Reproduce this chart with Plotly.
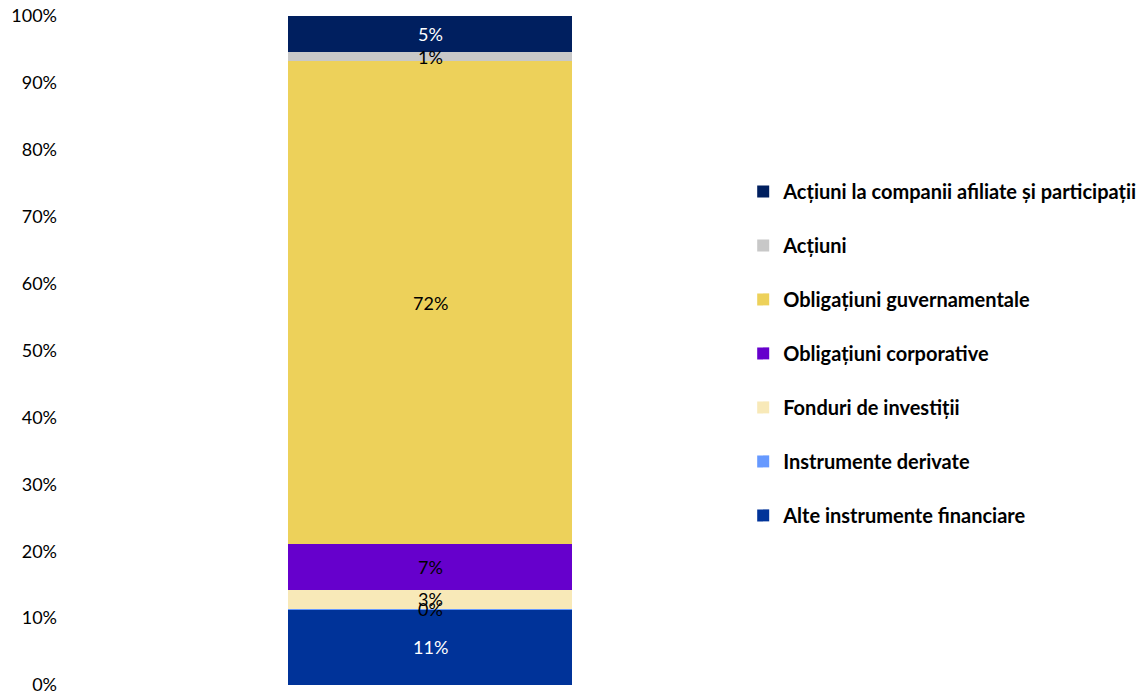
import plotly.graph_objects as go

# Portfolio structure (share of total, %), stacked bottom to top
categories = ["Total"]
series_names = [
    "Alte instrumente financiare",
    "Instrumente derivate",
    "Fonduri de investiții",
    "Obligațiuni corporative",
    "Obligațiuni guvernamentale",
    "Acțiuni",
    "Acțiuni la companii afiliate și participații",
]
series_values = [11.3, 0.1, 2.8, 6.9, 72.1, 1.4, 5.4]
series_colors = ["#003399", "#6699FF", "#F8E9B8", "#6600CC", "#EDD15A", "#C8C8C8", "#001F5F"]
label_colors = ["white", "black", "black", "black", "black", "black", "white"]
y_ticks = [0, 10, 20, 30, 40, 50, 60, 70, 80, 90, 100]
y_tick_labels = [f"{t}%" for t in y_ticks]

FONT = "Lato, 'Open Sans', sans-serif"

fig = go.Figure()
n = len(series_names)
base = 0.0
for i, (name, val, col, lcol) in enumerate(zip(series_names, series_values, series_colors, label_colors)):
    fig.add_trace(go.Bar(
        x=categories,
        y=[val],
        name=name,
        legendgroup=name,
        legendrank=100 + (n - i),
        marker=dict(color=col, line=dict(width=0)),
        width=0.394,
        hovertemplate="%{fullData.name}: %{y:.1f}%<extra></extra>",
    ))
    # value label centred in its segment, kept above every bar
    fig.add_annotation(
        x=categories[0], y=base + val / 2, text=f"{val:.0f}%",
        showarrow=False, font=dict(color=lcol, size=18, family=FONT),
        xanchor="center", yanchor="middle",
    )
    base += val

fig.update_layout(
    barmode="stack",
    width=1146,
    height=695,
    margin=dict(l=70, r=356, t=16, b=10, autoexpand=False),
    paper_bgcolor="white",
    plot_bgcolor="white",
    font=dict(family=FONT, size=18, color="black"),
    xaxis=dict(range=[-0.5, 0.5], showticklabels=False, showgrid=False,
               zeroline=False, showline=False, automargin=False),
    yaxis=dict(range=[0, 100], tickvals=y_ticks, ticktext=y_tick_labels, showgrid=False,
               zeroline=False, showline=False, ticks="", ticklabelstandoff=12,
               ticklabeloverflow="allow",
               automargin=False, tickfont=dict(size=18, family=FONT)),
    legend=dict(
        x=0.935, xanchor="left", y=0.767, yanchor="top",
        traceorder="grouped",
        tracegroupgap=25,
        font=dict(size=20, family=FONT, color="black", weight="bold"),
        itemclick=False,
    ),
    showlegend=True,
)

fig.write_html("out.html")
